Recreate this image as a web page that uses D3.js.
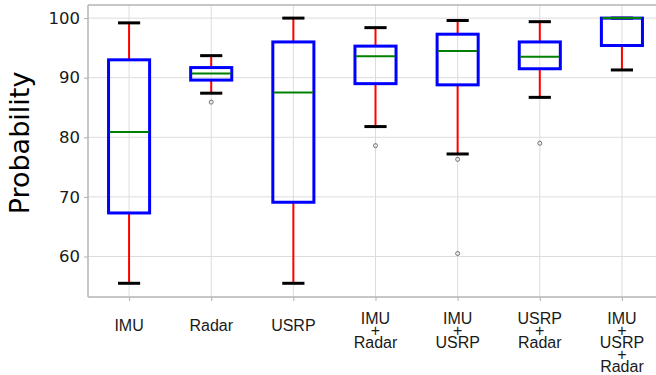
<!DOCTYPE html>
<html>
<head>
<meta charset="utf-8">
<script src="https://cdn.jsdelivr.net/npm/d3@7"></script>
<style>
  html, body { margin: 0; padding: 0; background: #fff; }
  svg { display: block; }
</style>
</head>
<body>
<svg id="chart" width="656" height="375"></svg>
<script>
// Sensor combinations (each entry is one line of the tick label)
const categories = [
  ["IMU"], ["Radar"], ["USRP"],
  ["IMU", "+", "Radar"], ["IMU", "+", "USRP"], ["USRP", "+", "Radar"],
  ["IMU", "+", "USRP", "+", "Radar"]
];
// Box-plot summaries per combination
const whiskerLow  = [55.5, 87.4, 55.5, 81.8, 77.2, 86.7, 91.3];
const q1          = [67.3, 89.6, 69.1, 89.0, 88.8, 91.5, 95.4];
const median      = [80.9, 90.7, 87.5, 93.6, 94.5, 93.5, 100.0];
const q3          = [93.0, 91.7, 96.0, 95.3, 97.3, 96.0, 100.0];
const whiskerHigh = [99.2, 93.7, 100.0, 98.4, 99.6, 99.4, 100.0];
const outliers    = [[], [85.9], [], [78.6], [76.3, 60.5], [79.0], []];
const yTicks      = [60, 70, 80, 90, 100];

const svg = d3.select("#chart");
const plotLeft = 88, plotTop = 5, plotBottom = 297;

const x = d3.scaleLinear().domain([0.5, 7.5]).range([plotLeft, 663]);
const y = d3.scaleLinear().domain([53.2, 102.2]).range([plotBottom, plotTop]);
const unit = x(2) - x(1);
const boxW = 0.5 * unit;
const capW = 0.27 * unit;

// grid
const g = svg.append("g");
g.selectAll("line.hgrid").data(yTicks).join("line")
  .attr("x1", plotLeft).attr("x2", 656)
  .attr("y1", d => y(d)).attr("y2", d => y(d))
  .attr("stroke", "#dcdcdc").attr("stroke-width", 1);
g.selectAll("line.vgrid").data(categories).join("line")
  .attr("x1", (d, i) => x(i + 1)).attr("x2", (d, i) => x(i + 1))
  .attr("y1", plotTop).attr("y2", plotBottom)
  .attr("stroke", "#dcdcdc").attr("stroke-width", 1);

// y axis
const yAxis = d3.axisLeft(y).tickValues(yTicks).tickSize(4).tickPadding(4);
const ya = svg.append("g").attr("transform", `translate(${plotLeft},0)`).call(yAxis);
ya.select(".domain").remove();
ya.selectAll(".tick line").attr("stroke", "#b0b0b0");
ya.selectAll(".tick text")
  .attr("font-family", "DejaVu Sans").attr("font-size", 16.5).attr("fill", "#1a1a1a");

// x axis ticks (labels drawn separately for multi-line text)
const xAxis = d3.axisBottom(x).tickValues(d3.range(1, 8)).tickSize(4).tickFormat("");
const xa = svg.append("g").attr("transform", `translate(0,${plotBottom})`).call(xAxis);
xa.select(".domain").remove();
xa.selectAll(".tick line").attr("stroke", "#b0b0b0");

// spines
svg.append("line").attr("x1", plotLeft).attr("x2", 656).attr("y1", plotTop).attr("y2", plotTop)
  .attr("stroke", "#b4b4b4").attr("stroke-width", 1.5);
svg.append("line").attr("x1", plotLeft).attr("x2", plotLeft).attr("y1", plotTop).attr("y2", plotBottom)
  .attr("stroke", "#b4b4b4").attr("stroke-width", 1.5);
svg.append("line").attr("x1", plotLeft).attr("x2", 656).attr("y1", plotBottom).attr("y2", plotBottom)
  .attr("stroke", "#b4b4b4").attr("stroke-width", 1.5);

// category labels: stacked lines, tightly packed
categories.forEach((lines, i) => {
  const t = svg.append("text")
    .attr("font-family", "Liberation Sans, Arial, sans-serif")
    .attr("font-size", 16).attr("fill", "#1a1a1a")
    .attr("text-anchor", "middle");
  const y0 = lines.length === 1 ? 330.7 : 324.2;
  lines.forEach((s, k) => {
    t.append("tspan").attr("x", x(i + 1)).attr("y", y0 + k * 12).text(s);
  });
});

// y label
svg.append("text")
  .attr("transform", "translate(29,143) rotate(-90)")
  .attr("text-anchor", "middle")
  .attr("font-family", "DejaVu Sans").attr("font-size", 27).attr("fill", "#000")
  .text("Probability");

// boxes
const boxes = svg.append("g").selectAll("g").data(categories).join("g");
boxes.append("line") // lower whisker
  .attr("x1", (d, i) => x(i + 1)).attr("x2", (d, i) => x(i + 1))
  .attr("y1", (d, i) => y(q1[i])).attr("y2", (d, i) => y(whiskerLow[i]))
  .attr("stroke", "#ff0000").attr("stroke-width", 2);
boxes.append("line") // upper whisker
  .attr("x1", (d, i) => x(i + 1)).attr("x2", (d, i) => x(i + 1))
  .attr("y1", (d, i) => y(q3[i])).attr("y2", (d, i) => y(whiskerHigh[i]))
  .attr("stroke", "#ff0000").attr("stroke-width", 2);
[whiskerLow, whiskerHigh].forEach(arr => {
  boxes.append("line")
    .attr("x1", (d, i) => x(i + 1) - capW / 2).attr("x2", (d, i) => x(i + 1) + capW / 2)
    .attr("y1", (d, i) => y(arr[i])).attr("y2", (d, i) => y(arr[i]))
    .attr("stroke", "#000").attr("stroke-width", 3);
});
boxes.append("rect")
  .attr("x", (d, i) => x(i + 1) - boxW / 2).attr("width", boxW)
  .attr("y", (d, i) => y(q3[i])).attr("height", (d, i) => y(q1[i]) - y(q3[i]))
  .attr("fill", "none").attr("stroke", "#0000ff").attr("stroke-width", 3);
boxes.append("line")
  .attr("x1", (d, i) => x(i + 1) - boxW / 2 + 1).attr("x2", (d, i) => x(i + 1) + boxW / 2 - 1)
  .attr("y1", (d, i) => y(median[i])).attr("y2", (d, i) => y(median[i]))
  .attr("stroke", "#008000").attr("stroke-width", 2);

// outliers
outliers.forEach((vals, i) => {
  svg.append("g").selectAll("circle").data(vals).join("circle")
    .attr("cx", x(i + 1)).attr("cy", d => y(d)).attr("r", 2)
    .attr("fill", "none").attr("stroke", "#707070").attr("stroke-width", 1);
});
</script>
</body>
</html>
